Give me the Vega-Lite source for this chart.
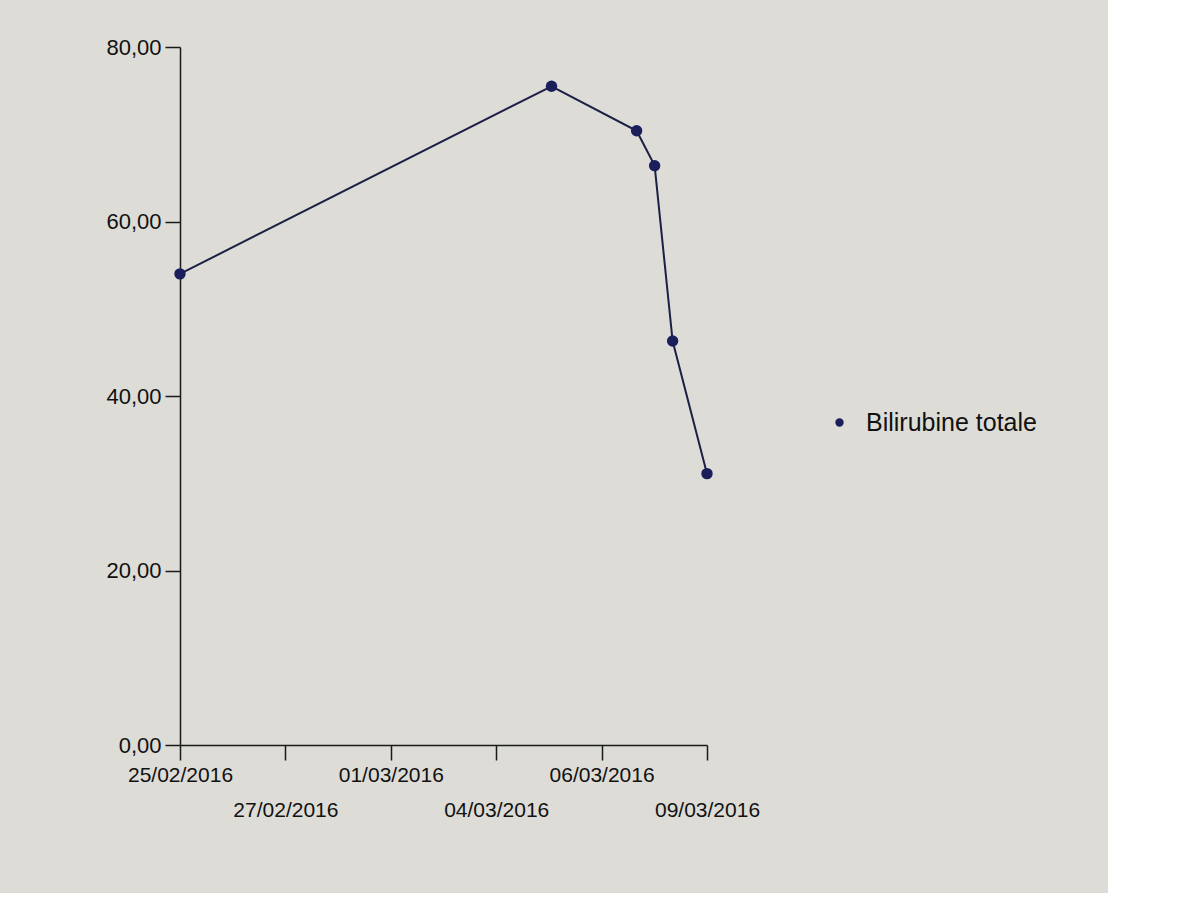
{
  "$schema": "https://vega.github.io/schema/vega-lite/v6.json",
  "width": 527,
  "height": 698,
  "autosize": {"type": "none"},
  "padding": {"left": 180, "top": 47, "right": 401, "bottom": 148},
  "background": "#dddcd6",
  "config": {"view": {"stroke": null}, "font": "Liberation Sans"},
  "data": {
    "values": [
      {"date": "2016-02-25T00:00:00", "value": 54.0, "series": "Bilirubine totale"},
      {"date": "2016-03-05T11:00:00", "value": 75.5, "series": "Bilirubine totale"},
      {"date": "2016-03-07T15:00:00", "value": 70.4, "series": "Bilirubine totale"},
      {"date": "2016-03-08T02:00:00", "value": 66.4, "series": "Bilirubine totale"},
      {"date": "2016-03-08T13:00:00", "value": 46.3, "series": "Bilirubine totale"},
      {"date": "2016-03-09T10:00:00", "value": 31.1, "series": "Bilirubine totale"}
    ]
  },
  "encoding": {
    "x": {
      "field": "date",
      "type": "temporal",
      "scale": {
        "domain": [
          {"year": 2016, "month": 2, "date": 25},
          {"year": 2016, "month": 3, "date": 9, "hours": 10}
        ],
        "nice": false
      },
      "axis": {
        "title": null,
        "grid": false,
        "values": [
          {"year": 2016, "month": 2, "date": 25},
          {"year": 2016, "month": 2, "date": 27, "hours": 16, "minutes": 24},
          {"year": 2016, "month": 3, "date": 1, "hours": 8, "minutes": 48},
          {"year": 2016, "month": 3, "date": 4, "hours": 1, "minutes": 12},
          {"year": 2016, "month": 3, "date": 6, "hours": 17, "minutes": 36},
          {"year": 2016, "month": 3, "date": 9, "hours": 10}
        ],
        "format": "%d/%m/%Y",
        "labelExpr": "round(datum.index * 5) % 2 == 1 ? ['', datum.label] : datum.label",
        "labelLineHeight": 35,
        "labelBaseline": "top",
        "labelFontSize": 21,
        "labelColor": "#111111",
        "labelPadding": 4,
        "labelOverlap": false,
        "labelFlush": false,
        "tickSize": 15,
        "tickColor": "#1a1a1a",
        "tickWidth": 1.5,
        "domainColor": "#1a1a1a",
        "domainWidth": 1.5
      }
    },
    "y": {
      "field": "value",
      "type": "quantitative",
      "scale": {"domain": [0, 80], "nice": false},
      "axis": {
        "title": null,
        "grid": false,
        "values": [0, 20, 40, 60, 80],
        "labelExpr": "replace(format(datum.value, '.2f'), '.', ',')",
        "labelFontSize": 22,
        "labelColor": "#111111",
        "labelPadding": 4,
        "tickSize": 15,
        "tickColor": "#1a1a1a",
        "tickWidth": 1.5,
        "domainColor": "#1a1a1a",
        "domainWidth": 1.5
      }
    }
  },
  "layer": [
    {
      "mark": {"type": "line", "color": "#1c2045", "strokeWidth": 2}
    },
    {
      "mark": {"type": "point", "filled": true, "opacity": 1, "size": 130},
      "encoding": {
        "color": {
          "field": "series",
          "type": "nominal",
          "scale": {"range": ["#1a1f5c"]},
          "legend": {
            "orient": "none",
            "legendX": 647,
            "legendY": 363,
            "title": null,
            "labelFontSize": 25,
            "labelLimit": 400,
            "labelColor": "#111111",
            "symbolType": "circle",
            "symbolSize": 70,
            "labelOffset": 14
          }
        }
      }
    }
  ]
}
